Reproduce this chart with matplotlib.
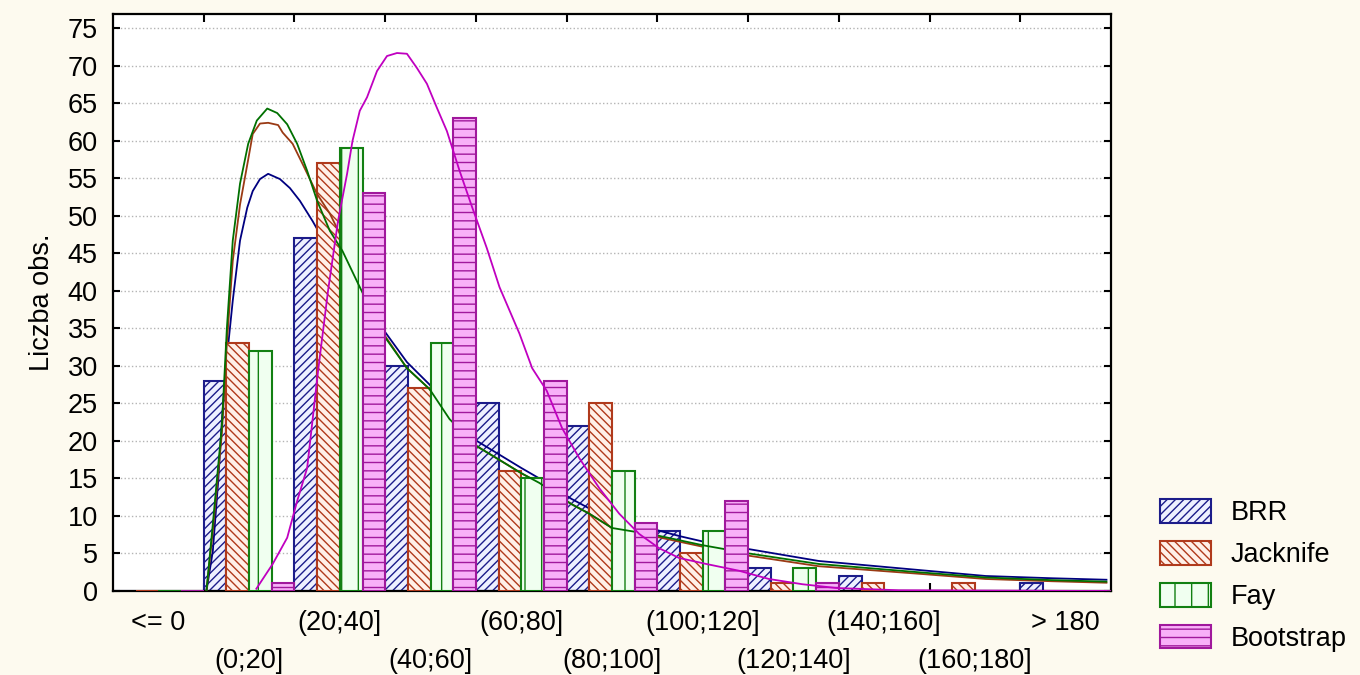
import numpy as np
import matplotlib
matplotlib.use("Agg")
import matplotlib.pyplot as plt

# histogram counts per class
categories = ["<= 0", "(0;20]", "(20;40]", "(40;60]", "(60;80]", "(80;100]",
              "(100;120]", "(120;140]", "(140;160]", "(160;180]", "> 180"]
brr = [0, 28, 47, 30, 25, 22, 8, 3, 2, 0, 1]
jacknife = [0, 33, 57, 27, 16, 25, 5, 1, 1, 1, 0]
fay = [0, 32, 59, 33, 15, 16, 8, 3, 0, 0, 0]
bootstrap = [0, 1, 53, 63, 28, 9, 12, 1, 0, 0, 0]

# fitted curves (x in class units)
brr_curve_x = [0.53, 0.60, 0.66, 0.70, 0.74, 0.82, 0.90, 0.98, 1.04, 1.12, 1.21, 1.34,
               1.45, 1.56, 1.70, 1.78, 2.00, 2.22, 2.47, 2.74, 2.99, 3.21, 3.51, 4.00,
               4.20, 4.55, 4.75, 5.00, 5.25, 5.50, 5.75, 6.00, 6.50, 7.28, 8.38, 9.12,
               9.85, 10.45]
brr_curve_y = [0, 5.3, 14.7, 22.7, 29.3, 38.7, 46.7, 51.1, 53.3, 54.9, 55.6, 54.9,
               53.7, 52.0, 49.3, 47.6, 43.5, 39.5, 35.0, 30.5, 27.5, 24.0, 20.0, 16.4,
               15.0, 12.3, 11.0, 9.8, 9.0, 8.1, 7.3, 6.6, 5.6, 4.0, 2.8, 2.0,
               1.7, 1.5]

jack_curve_x = [0.53, 0.60, 0.70, 0.755, 0.82, 0.90, 0.99, 1.04, 1.12, 1.21, 1.32,
                1.37, 1.48, 1.59, 1.75, 1.89, 2.00, 2.11, 2.20, 2.47, 2.74, 2.99,
                3.21, 3.51, 4.00, 4.20, 4.55, 4.75, 5.00, 5.25, 5.50, 6.00, 6.51,
                7.28, 8.38, 9.12, 9.85, 10.45]
jack_curve_y = [0, 8.0, 21.0, 33.0, 44.0, 51.5, 57.5, 60.9, 62.3, 62.4, 62.1,
                61.1, 59.6, 56.9, 52.9, 50.3, 47.6, 45.3, 43.0, 34.5, 29.7, 26.9,
                22.9, 19.3, 15.7, 14.4, 11.6, 10.3, 8.4, 7.8, 7.2, 5.9, 4.7,
                3.3, 2.3, 1.6, 1.3, 1.1]

fay_curve_x = [0.53, 0.60, 0.70, 0.755, 0.82, 0.90, 0.99, 1.085, 1.20, 1.31, 1.42,
               1.53, 1.64, 1.75, 1.89, 2.03, 2.20, 2.47, 2.74, 2.99, 3.21, 3.51,
               4.00, 4.20, 4.55, 4.75, 5.00, 5.50, 6.00, 6.51, 7.28, 8.38, 9.12,
               9.85, 10.45]
fay_curve_y = [0, 8.9, 22.0, 35.0, 46.7, 54.3, 59.6, 62.7, 64.3, 63.7, 62.2,
               59.6, 56.0, 52.0, 48.0, 45.3, 41.0, 34.3, 29.7, 26.9, 22.9, 19.3,
               15.7, 14.4, 11.6, 10.3, 8.4, 7.4, 6.1, 5.0, 3.6, 2.5, 1.8,
               1.45, 1.25]

boot_curve_x = [1.08, 1.26, 1.42, 1.53, 1.64, 1.76, 1.87, 1.98, 2.08, 2.14, 2.22,
                2.30, 2.41, 2.52, 2.63, 2.74, 2.85, 2.96, 3.07, 3.18, 3.32, 3.46,
                3.62, 3.76, 3.98, 4.12, 4.28, 4.45, 4.64, 4.86, 5.08, 5.30, 5.52,
                5.74, 6.04, 6.40, 6.73, 7.10, 7.47, 8.16, 10.45]
boot_curve_y = [0.3, 3.6, 7.1, 12.0, 16.4, 29.3, 40.0, 49.3, 55.6, 60.0, 64.0,
                65.8, 69.3, 71.3, 71.7, 71.6, 69.7, 67.6, 64.4, 61.3, 56.0, 51.1,
                45.7, 40.5, 34.3, 29.7, 26.7, 21.7, 17.7, 13.7, 10.3, 7.6, 5.7,
                4.4, 3.6, 2.7, 1.6, 0.9, 0.4, 0.1, 0.0]

series = [
    ("BRR", brr, brr_curve_x, brr_curve_y, "#eef0ff", "#1c1c8a", "#000080", "////"),
    ("Jacknife", jacknife, jack_curve_x, jack_curve_y, "#fff0e8", "#b03a1c", "#9a3a14", "\\\\\\\\"),
    ("Fay", fay, fay_curve_x, fay_curve_y, "#f0fff0", "#128012", "#007000", "|"),
    ("Bootstrap", bootstrap, boot_curve_x, boot_curve_y, "#f8b0f8", "#a0189c", "#c000c0", "--"),
]

bg = "#fdfaef"
plt.rcParams["font.family"] = ["Liberation Sans", "DejaVu Sans"]

fig = plt.figure(figsize=(13.6, 6.75), dpi=100, facecolor=bg)
ax = fig.add_axes([113 / 1360, 84 / 675, 998 / 1360, 577 / 675])
ax.set_facecolor("white")

x = np.arange(len(categories))
width = 0.25
offsets = [-0.375, -0.125, 0.125, 0.375]

handles = []
for i, (name, vals, cx, cy, face, edge, lc, hatch) in enumerate(series):
    z = 2 + i
    b = ax.bar(x + offsets[i], vals, width=width, facecolor=face, edgecolor=edge,
               hatch=hatch, linewidth=1.5, zorder=z, label=name)
    handles.append(b)
    ax.plot(cx, cy, color=lc, linewidth=1.3, zorder=z + 0.5)

ax.set_xlim(-0.5, 10.5)
ax.set_ylim(0, 76.9)

ax.set_yticks(range(0, 80, 5))
ax.yaxis.grid(True, linestyle=":", color="#b4b4b4", linewidth=1.0)
ax.set_axisbelow(True)

ax.set_xticks(x)
ax.set_xticklabels(categories, fontsize=19.5)
ax.tick_params(axis="x", which="major", length=0, pad=14)
ax.set_xticks(np.arange(0.5, 10, 1), minor=True)
ax.tick_params(axis="x", which="minor", top=True, bottom=True, direction="in",
               length=6, width=1.5)
ax.tick_params(axis="y", direction="in", right=True, length=5, width=1.5,
               labelsize=19.5, pad=11)
# staggered second row of class labels
for t in ax.xaxis.get_major_ticks()[1::2]:
    t.set_pad(41)

for s in ax.spines.values():
    s.set_linewidth(1.6)
    s.set_color("black")

ax.set_ylabel("Liczba obs.", fontsize=19.5, labelpad=9)

fig.legend(handles=handles, loc="center left", bbox_to_anchor=(1160 / 1360, 0.147),
           frameon=False, fontsize=19.5, handlelength=1.9, handleheight=0.95,
           handletextpad=0.7, labelspacing=0.55, borderpad=0, borderaxespad=0)

fig.savefig("out.png", dpi=100, facecolor=bg)
